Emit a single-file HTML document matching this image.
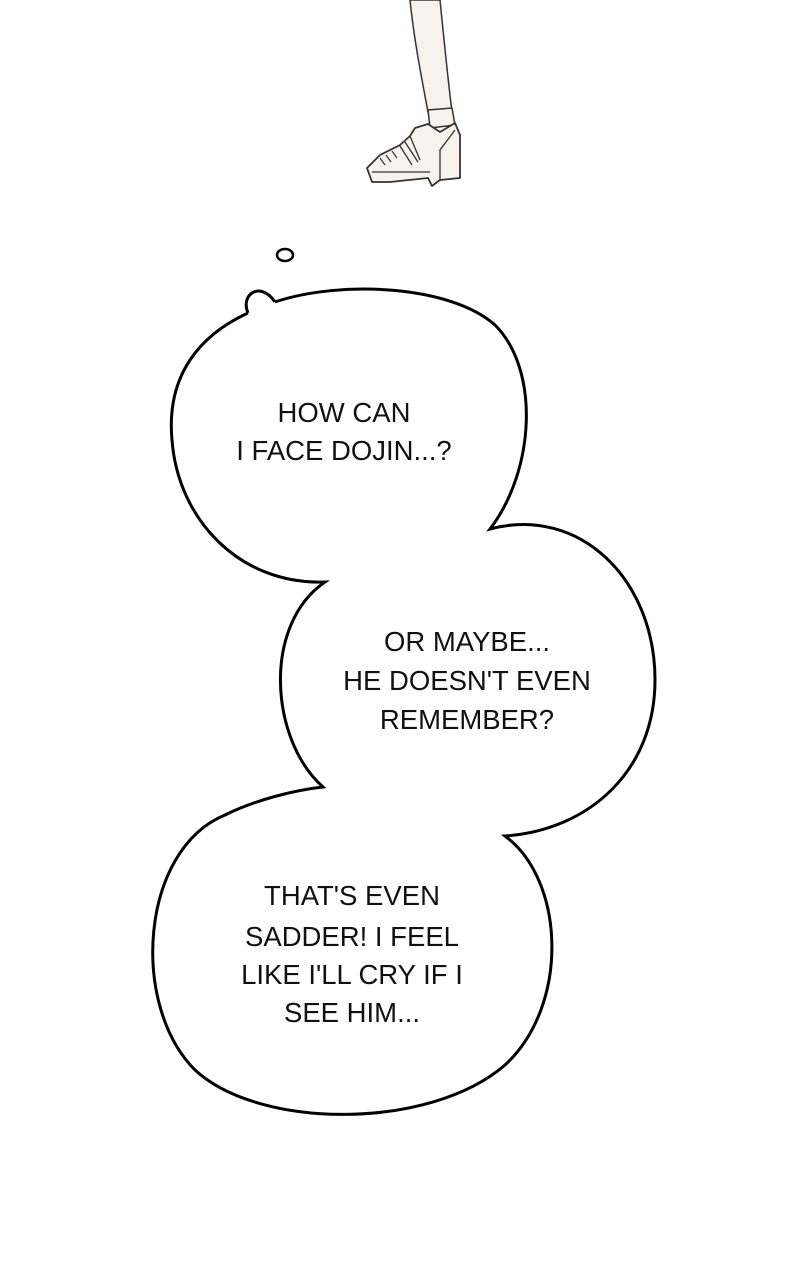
<!DOCTYPE html>
<html><head><style>
html,body{margin:0;padding:0;background:#fff;width:800px;height:1280px;overflow:hidden}
svg{position:absolute;left:0;top:0}
text{font-family:"Liberation Sans",sans-serif;font-size:27.5px;fill:#111;text-anchor:middle}
</style></head><body>
<svg width="800" height="1280" viewBox="0 0 800 1280">
<path d="M410,0 C414,40 422,80 428,112 L452,112 C448,80 444,40 440,0 Z" fill="#f8f2ec" stroke="#333" stroke-width="1.5"/>
<path d="M428,110 L452,108 L455,125 L430,128 Z" fill="#f8f2ec" stroke="#333" stroke-width="1.5"/>
<path d="M415,128 L428,124 L440,132 L455,123 L460,135 L460,178 L440,180 L432,186 L428,178 L390,182 L372,182 L367,168 L380,155 L400,145 L410,136 Z" fill="#f8f2ec" stroke="#333" stroke-width="1.8" stroke-linejoin="round"/>
<path d="M372,172 L430,172 M440,180 L440,150 L455,130 M400,146 L412,165 M405,142 L418,162 M410,136 L420,160" fill="none" stroke="#333" stroke-width="1.3"/>
<path d="M380,158 L385,165 M386,155 L391,162 M392,151 L397,158" stroke="#333" stroke-width="1.2"/>
<ellipse cx="285" cy="255" rx="8" ry="6" fill="#fff" stroke="#000" stroke-width="2.5"/>
<path d="M248,313 C240,295 260,280 275,302" fill="#fff" stroke="#000" stroke-width="3"/>
<path d="M275,302 C340,280 450,285 495,325 C540,370 535,470 490,529
C580,505 655,580 655,680 C655,770 590,830 505,836
C565,880 570,1005 505,1065 C430,1130 260,1130 195,1070
C130,1005 140,850 225,815 C255,800 295,790 323,787
C270,740 262,625 325,582 C240,585 178,520 172,440
C166,375 200,335 248,313" fill="#fff" stroke="#000" stroke-width="3" stroke-linejoin="miter"/>
<text x="344" y="422">HOW CAN</text>
<text x="344" y="460">I FACE DOJIN...?</text>
<text x="467" y="651">OR MAYBE...</text>
<text x="467" y="690">HE DOESN'T EVEN</text>
<text x="467" y="729">REMEMBER?</text>
<text x="352" y="905">THAT'S EVEN</text>
<text x="352" y="946">SADDER! I FEEL</text>
<text x="352" y="984">LIKE I'LL CRY IF I</text>
<text x="352" y="1022">SEE HIM...</text>
</svg>
</body></html>
